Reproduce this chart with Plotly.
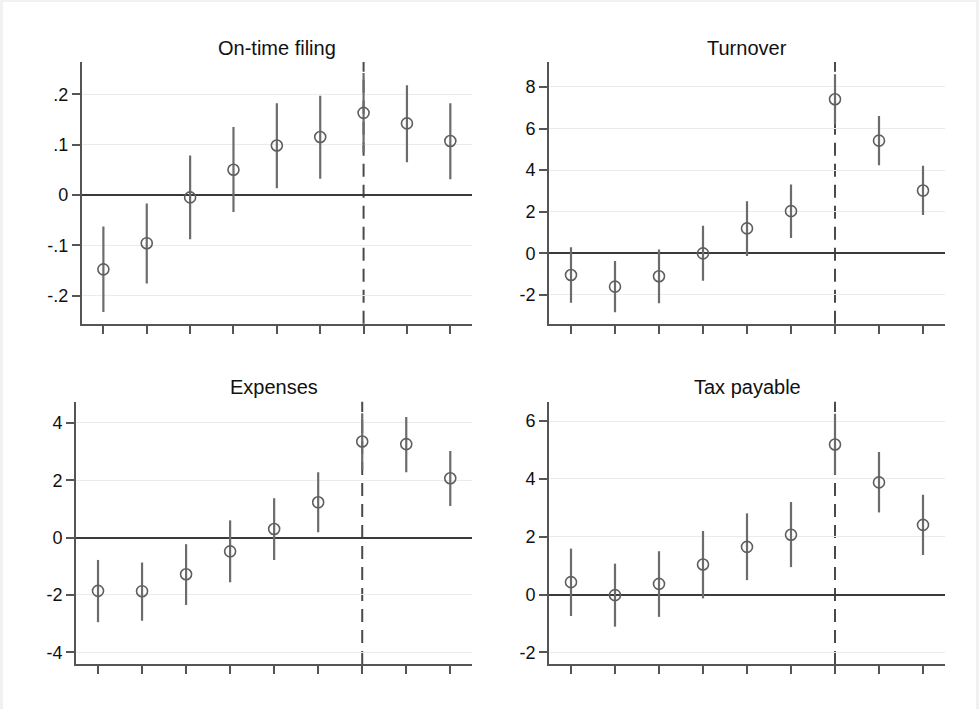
import plotly.graph_objects as go

# Event time relative to the reform (period 0 marked by the dashed line)
event_time = [-6, -5, -4, -3, -2, -1, 0, 1, 2]

# On-time filing: point estimates and 95% CI bounds
ontime_est = [-0.148, -0.096, -0.005, 0.050, 0.098, 0.115, 0.163, 0.142, 0.107]
ontime_lo = [-0.233, -0.176, -0.088, -0.034, 0.013, 0.032, 0.084, 0.065, 0.031]
ontime_hi = [-0.063, -0.017, 0.078, 0.135, 0.182, 0.197, 0.242, 0.218, 0.182]

# Turnover
turnover_est = [-1.04, -1.60, -1.10, 0.00, 1.20, 2.03, 7.41, 5.42, 3.02]
turnover_lo = [-2.37, -2.83, -2.40, -1.31, -0.13, 0.74, 6.20, 4.24, 1.84]
turnover_hi = [0.29, -0.37, 0.19, 1.33, 2.51, 3.31, 8.61, 6.61, 4.21]

# Expenses
expenses_est = [-1.86, -1.87, -1.28, -0.48, 0.30, 1.23, 3.35, 3.26, 2.07]
expenses_lo = [-2.95, -2.90, -2.35, -1.56, -0.78, 0.19, 2.36, 2.28, 1.10]
expenses_hi = [-0.78, -0.87, -0.23, 0.60, 1.37, 2.28, 4.34, 4.21, 3.02]

# Tax payable
tax_est = [0.43, -0.02, 0.37, 1.04, 1.65, 2.07, 5.19, 3.88, 2.41]
tax_lo = [-0.74, -1.11, -0.77, -0.13, 0.50, 0.95, 4.14, 2.84, 1.37]
tax_hi = [1.59, 1.07, 1.50, 2.20, 2.81, 3.20, 6.25, 4.93, 3.45]

titles = ["On-time filing", "Turnover", "Expenses", "Tax payable"]

ontime_ticks = [-0.2, -0.1, 0, 0.1, 0.2]
ontime_ticktext = ["-.2", "-.1", "0", ".1", ".2"]
turnover_ticks = [-2, 0, 2, 4, 6, 8]
expenses_ticks = [-4, -2, 0, 2, 4]
tax_ticks = [-2, 0, 2, 4, 6]

W, H = 979, 709
FONT = "Liberation Sans, Arial, sans-serif"
AXIS_COL = "#555555"
GRID_COL = "#ebebeb"
MARK_COL = "#5e5e5e"
BAR_COL = "#6c6c6c"
TICK_SIZE = 18


def px_x(p):
    return p / W


def px_y(p):
    return 1 - p / H


# panel boxes in pixels: (left, right, top, bottom)
boxes = [
    (81.7, 472.0, 62.0, 323.7),
    (549.0, 945.0, 62.0, 323.7),
    (76.0, 472.3, 401.7, 664.0),
    (549.0, 945.0, 401.7, 664.0),
]
yranges = [[-0.256, 0.264], [-3.38, 9.2], [-4.41, 4.74], [-2.40, 6.67]]
title_y = [48.3, 48.3, 387.3, 387.3]

panels = [
    (ontime_est, ontime_lo, ontime_hi, ontime_ticks, ontime_ticktext),
    (turnover_est, turnover_lo, turnover_hi, turnover_ticks, [str(v) for v in turnover_ticks]),
    (expenses_est, expenses_lo, expenses_hi, expenses_ticks, [str(v) for v in expenses_ticks]),
    (tax_est, tax_lo, tax_hi, tax_ticks, [str(v) for v in tax_ticks]),
]

fig = go.Figure()
fig.update_layout(
    width=W,
    height=H,
    margin=dict(l=0, r=0, t=0, b=0),
    paper_bgcolor="#f1f1f1",
    plot_bgcolor="rgba(0,0,0,0)",
    showlegend=False,
    font=dict(family=FONT, color="#111111"),
)

# white graph region inside a thin grey frame
fig.add_shape(
    type="rect", xref="paper", yref="paper",
    x0=px_x(3), x1=px_x(976), y0=0, y1=px_y(2),
    fillcolor="white", line=dict(width=0), layer="below",
)

for i, ((est, lo, hi, tv, tt), box, yr, ty, title) in enumerate(
        zip(panels, boxes, yranges, title_y, titles)):
    n = i + 1
    xa = "x" if n == 1 else f"x{n}"
    ya = "y" if n == 1 else f"y{n}"
    up = [h - e for h, e in zip(hi, est)]
    dn = [e - l for e, l in zip(est, lo)]
    fig.add_trace(go.Scatter(
        x=event_time, y=est, mode="markers",
        xaxis=xa, yaxis=ya,
        marker=dict(symbol="circle-open", size=11, color=MARK_COL,
                    line=dict(width=1.6, color=MARK_COL)),
        error_y=dict(type="data", symmetric=False, array=up, arrayminus=dn,
                     color=BAR_COL, thickness=2.2, width=0),
    ))
    l, r, t, b = box
    xkey = "xaxis" if n == 1 else f"xaxis{n}"
    ykey = "yaxis" if n == 1 else f"yaxis{n}"
    fig.update_layout({
        xkey: dict(
            domain=[px_x(l), px_x(r)], anchor=ya,
            range=[event_time[0] - 0.5, event_time[-1] + 0.5],
            tickmode="array", tickvals=event_time,
            ticktext=[""] * len(event_time),
            ticks="outside", ticklen=8, tickwidth=1.5, tickcolor=AXIS_COL,
            showline=True, linecolor=AXIS_COL, linewidth=1.8,
            showgrid=False, zeroline=False, fixedrange=True,
        ),
        ykey: dict(
            domain=[px_y(b), px_y(t)], anchor=xa,
            range=yr, tickmode="array", tickvals=tv, ticktext=tt,
            ticks="outside", ticklen=8, tickwidth=1.5, tickcolor=AXIS_COL,
            tickfont=dict(size=TICK_SIZE, family=FONT, color="#111111"),
            showline=True, linecolor=AXIS_COL, linewidth=1.8,
            showgrid=True, gridcolor=GRID_COL, gridwidth=1.3,
            zeroline=True, zerolinecolor="#3a3a3a", zerolinewidth=1.6,
            fixedrange=True,
        ),
    })
    # reform period marker
    fig.add_shape(
        type="line", xref=xa, yref="paper",
        x0=0, x1=0, y0=px_y(b), y1=px_y(t),
        line=dict(color="#4a4a4a", width=2, dash="13px,8px"),
        layer="below",
    )
    fig.add_annotation(
        text=title, xref="paper", yref="paper",
        x=px_x((l + r) / 2), y=px_y(ty), xanchor="center", yanchor="middle",
        showarrow=False, font=dict(size=20, family=FONT, color="#111111"),
    )

fig.write_html("out.html")
